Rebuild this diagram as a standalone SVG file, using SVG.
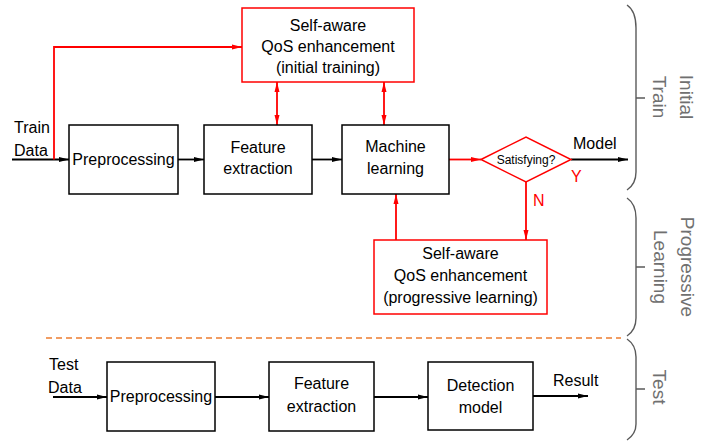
<svg xmlns="http://www.w3.org/2000/svg" width="715" height="441" viewBox="0 0 715 441">
<style>
text{font-family:"Liberation Sans",Arial,sans-serif;font-size:16px;fill:#000}
.c{text-anchor:middle}
.blk{fill:#fff;stroke:#000;stroke-width:1.5}
.red{fill:#fff;stroke:#f00;stroke-width:1.5}
.lb{fill:none;stroke:#000;stroke-width:1.8}
.lr{fill:none;stroke:#f00;stroke-width:1.8}
.br{fill:none;stroke:#5a5a5a;stroke-width:1.4}
.gt{fill:#707070;font-size:19px;text-anchor:middle}
.rt{fill:#f00}
</style>
<defs>
<marker id="ab" markerUnits="userSpaceOnUse" markerWidth="11" markerHeight="6" refX="10" refY="3" orient="auto"><path d="M0,0.5 L10,3 L0,5.5 z" fill="#000"/></marker>
<marker id="ar" markerUnits="userSpaceOnUse" markerWidth="11" markerHeight="6" refX="10" refY="3" orient="auto"><path d="M0,0.5 L10,3 L0,5.5 z" fill="#f00"/></marker>
<marker id="as" markerUnits="userSpaceOnUse" markerWidth="11" markerHeight="6" refX="0" refY="3" orient="auto"><path d="M10,0.5 L0,3 L10,5.5 z" fill="#f00"/></marker>
</defs>

<g id="connectors">
<path class="lb" d="M12,159.5 H69" marker-end="url(#ab)"/>
<path class="lr" d="M54,159.5 V47 H242" marker-end="url(#ar)"/>
<path class="lb" d="M178,159.5 H204" marker-end="url(#ab)"/>
<path class="lb" d="M312,159.5 H342" marker-end="url(#ab)"/>
<path class="lr" d="M277,82 V125" marker-start="url(#as)" marker-end="url(#ar)"/>
<path class="lr" d="M384,82 V125" marker-start="url(#as)" marker-end="url(#ar)"/>
<path class="lr" d="M449,159.5 H481" marker-end="url(#ar)"/>
<path class="lb" d="M571,159.5 H628" marker-end="url(#ab)"/>
<path class="lr" d="M526,182 V240" marker-end="url(#ar)"/>
<path class="lr" d="M396,240 V194" marker-end="url(#ar)"/>
<path d="M46,338 H621" fill="none" stroke="#ED7D31" stroke-width="1.6" stroke-dasharray="6,4"/>
<path class="lb" d="M53,397 H107" marker-end="url(#ab)"/>
<path class="lb" d="M215,397 H269" marker-end="url(#ab)"/>
<path class="lb" d="M374,397 H428" marker-end="url(#ab)"/>
<path class="lb" d="M533,396 H588" marker-end="url(#ab)"/>
</g>

<g id="train-data"><text x="14" y="133">Train</text><text x="14" y="156">Data</text></g>
<g id="self-aware-initial">
<rect class="red" x="242" y="8" width="172" height="74"/>
<text class="c" x="328" y="31">Self-aware</text>
<text class="c" x="328" y="52">QoS enhancement</text>
<text class="c" x="328" y="73">(initial training)</text>
</g>
<g id="preprocessing-train"><rect class="blk" x="69" y="125" width="109" height="69"/><text class="c" x="123.5" y="165">Preprocessing</text></g>
<g id="feature-train"><rect class="blk" x="204" y="125" width="108" height="69"/><text class="c" x="258" y="153">Feature</text><text class="c" x="258" y="174">extraction</text></g>
<g id="ml"><rect class="blk" x="342" y="125" width="107" height="69"/><text class="c" x="395.5" y="152">Machine</text><text class="c" x="395.5" y="174">learning</text></g>
<g id="satisfying"><path d="M481,159.5 L526,137 L571,159.5 L526,182 z" fill="#fff" stroke="#f00" stroke-width="1.5"/><text class="c" x="526" y="163.5" style="font-size:12px">Satisfying?</text></g>
<g id="model"><text x="573" y="149">Model</text></g>
<g id="y-label"><text class="rt" x="571" y="182">Y</text></g>
<g id="n-label"><text class="rt" x="533" y="206">N</text></g>
<g id="self-aware-progressive">
<rect class="red" x="374" y="240" width="173" height="74"/>
<text class="c" x="460.5" y="259">Self-aware</text>
<text class="c" x="460.5" y="281">QoS enhancement</text>
<text class="c" x="460.5" y="303">(progressive learning)</text>
</g>

<g id="test-data"><text x="49" y="370">Test</text><text x="48" y="393">Data</text></g>
<g id="preprocessing-test"><rect class="blk" x="107" y="362" width="108" height="69"/><text class="c" x="161" y="402">Preprocessing</text></g>
<g id="feature-test"><rect class="blk" x="269" y="362" width="105" height="69"/><text class="c" x="321.5" y="389">Feature</text><text class="c" x="321.5" y="412">extraction</text></g>
<g id="detection"><rect class="blk" x="428" y="362" width="105" height="68"/><text class="c" x="480.5" y="391">Detection</text><text class="c" x="480.5" y="413">model</text></g>
<g id="result"><text x="553" y="386">Result</text></g>

<g id="brace-initial">
<path class="br" d="M627,5 Q636,11 636,28 V172 Q636,184 627,190 M636,98 H645"/>
<text class="gt" transform="translate(680,97) rotate(90)">Initial</text>
<text class="gt" transform="translate(653,97) rotate(90)">Train</text>
</g>
<g id="brace-progressive">
<path class="br" d="M627,198 Q636,204 636,218 V318 Q636,330 627,336 M636,267 H645"/>
<text class="gt" transform="translate(681,267) rotate(90)">Progressive</text>
<text class="gt" transform="translate(654,267) rotate(90)">Learning</text>
</g>
<g id="brace-test">
<path class="br" d="M627,339 Q636,345 636,357 V424 Q636,434 627,440 M636,389 H645"/>
<text class="gt" transform="translate(653,387) rotate(90)">Test</text>
</g>
</svg>
